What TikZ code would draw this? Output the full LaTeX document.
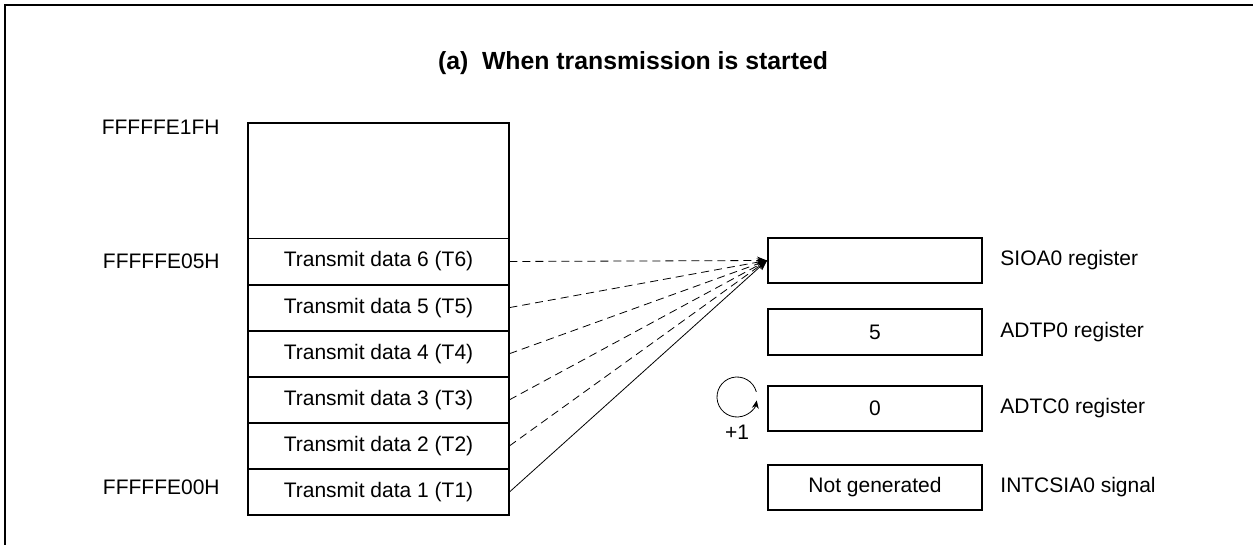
\documentclass[tikz,border=0pt]{standalone}
\usepackage{fontspec}
\setmainfont{Liberation Sans}
\usetikzlibrary{arrows.meta,positioning}
\tikzset{
  cell/.style={draw, line width=0.45pt, minimum width=130.5pt, minimum height=22.6pt, inner sep=0pt, font=\fontsize{10.5}{12}\selectfont},
  regbox/.style={draw, line width=1pt, minimum width=107pt, minimum height=22.5pt, inner sep=0pt, font=\fontsize{10.5}{12}\selectfont},
  txt/.style={inner sep=0pt, font=\fontsize{10.5}{12}\selectfont},
  feed/.style={-{Stealth[length=5pt,width=4pt]}, line width=0.4pt},
}
\begin{document}
\begin{tikzpicture}[x=0.5pt,y=-0.5pt]
        \useasboundingbox (0,0) rectangle (1253,545);
        % frame
        \draw[line width=1.2pt] (5,545) -- (5,5) -- (1253,5);
        % title
        \node[inner sep=0pt, font=\fontsize{12.4}{14}\selectfont\bfseries] (title) at (633,63) {(a)\ \ When transmission is started};
        % memory
        \node[cell, minimum height=57.5pt] (free) at (378.5,180.5) {};
        \node[cell, below=0pt of free] (t6) {Transmit data 6 (T6)};
        \node[cell, below=0pt of t6] (t5) {Transmit data 5 (T5)};
        \node[cell, below=0pt of t5] (t4) {Transmit data 4 (T4)};
        \node[cell, below=0pt of t4] (t3) {Transmit data 3 (T3)};
        \node[cell, below=0pt of t3] (t2) {Transmit data 2 (T2)};
        \node[cell, below=0pt of t2] (t1) {Transmit data 1 (T1)};
        \draw[line width=1pt] (free.north west) rectangle (t1.south east);
        % addresses
        \node[txt, anchor=east] (a1f) at (220,127) {FFFFFE1FH};
        \node[txt, anchor=east] (a05) at (220,261) {FFFFFE05H};
        \node[txt, anchor=east] (a00) at (220,487) {FFFFFE00H};
        % registers
        \node[regbox] (sioa) at (875,260.5) {};
        \node[regbox] (adtp) at (875,332) {5};
        \node[regbox] (adtc) at (875,408.5) {0};
        \node[regbox] (intc) at (875,487.5) {Not generated};
        \node[txt, anchor=west] (sioal) at (1000,260.5) {SIOA0 register};
        \node[txt, anchor=west] (adtpl) at (1000,332) {ADTP0 register};
        \node[txt, anchor=west] (adtcl) at (1000,408.5) {ADTC0 register};
        \node[txt, anchor=west] (intcl) at (1000,487.5) {INTCSIA0 signal};
        % transfers
        \foreach \t in {t6,t5,t4,t3,t2}
          \draw[feed, dashed, dash pattern=on 4pt off 2.5pt] (\t.east) -- (sioa.west);
        \draw[feed] (t1.east) -- (sioa.west);
        % counter
        \coordinate (cyc) at (737,397);
        \draw[-{Stealth[length=4pt,width=3.5pt]}, line width=0.4pt] ([shift={(15:10pt)}]cyc) arc[start angle=15, end angle=350, radius=10pt];
        \node[txt] (inc) at (737,432) {+1};
    \end{tikzpicture}
\end{document}
